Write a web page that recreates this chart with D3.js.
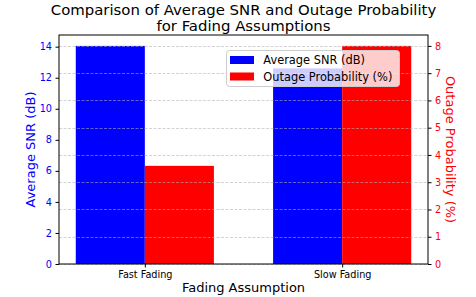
<!DOCTYPE html>
<html>
<head>
<meta charset="utf-8">
<script src="https://cdn.jsdelivr.net/npm/d3@7"></script>
<style>
  body { margin: 0; background: #fff; }
  text { font-family: "DejaVu Sans", sans-serif; }
</style>
</head>
<body>
<script>
// chart data
var categories = ["Fast Fading", "Slow Fading"];
var avgSnr = [14.05, 12.6];
var outageProb = [3.6, 8.0];
var snrTicks = [0, 2, 4, 6, 8, 10, 12, 14];
var outTicks = [0, 1, 2, 3, 4, 5, 6, 7, 8];

var width = 476, height = 297;
var plotL = 59, plotR = 428, plotT = 35, plotB = 264;
var barW = 0.35;

var svg = d3.select("body").append("svg")
    .attr("width", width)
    .attr("height", height);

// x positions: blue bar at i, red bar at i + barW, tick in the middle
var x = d3.scaleLinear()
    .domain([-barW / 2 - 0.085, categories.length - 1 + barW * 1.5 + 0.085])
    .range([plotL, plotR]);

var ySnr = d3.scaleLinear()
    .domain([0, d3.max(avgSnr) * 1.05])
    .range([plotB, plotT]);

var yOut = d3.scaleLinear()
    .domain([0, d3.max(outageProb) * 1.05])
    .range([plotB, plotT]);

// bars
svg.append("g").selectAll("rect")
    .data(avgSnr)
    .enter().append("rect")
    .attr("x", function(d, i){ return x(i - barW / 2); })
    .attr("width", function(){ return x(barW) - x(0); })
    .attr("y", function(d){ return ySnr(d); })
    .attr("height", function(d){ return plotB - ySnr(d); })
    .attr("fill", "#0000ff");

svg.append("g").selectAll("rect")
    .data(outageProb)
    .enter().append("rect")
    .attr("x", function(d, i){ return x(i + barW / 2); })
    .attr("width", function(){ return x(barW) - x(0); })
    .attr("y", function(d){ return yOut(d); })
    .attr("height", function(d){ return plotB - yOut(d); })
    .attr("fill", "#ff0000");

// grid from right axis ticks
svg.append("g").selectAll("line")
    .data(outTicks)
    .enter().append("line")
    .attr("x1", plotL).attr("x2", plotR)
    .attr("y1", function(d){ return Math.round(yOut(d)) + 0.5; })
    .attr("y2", function(d){ return Math.round(yOut(d)) + 0.5; })
    .attr("stroke", "#b0b0b0")
    .attr("stroke-opacity", 0.7)
    .attr("stroke-width", 0.8)
    .attr("stroke-dasharray", "3,1.5");

// axes
var xAxis = d3.axisBottom(x)
    .tickValues(categories.map(function(d, i){ return i + barW / 2; }))
    .tickFormat(function(d, i){ return categories[i]; })
    .tickSize(3.5).tickPadding(3.5);

var gx = svg.append("g")
    .attr("transform", "translate(0," + plotB + ")")
    .call(xAxis);
gx.select(".domain").remove();
gx.selectAll("text").attr("font-size", 9.7).attr("fill", "#000").attr("font-family", "DejaVu Sans");

var gl = svg.append("g")
    .attr("transform", "translate(" + plotL + ",0)")
    .call(d3.axisLeft(ySnr).tickValues(snrTicks).tickSize(3.5).tickPadding(3.5));
gl.select(".domain").remove();
gl.selectAll("text").attr("font-size", 9.7).attr("fill", "#0000ff").attr("font-family", "DejaVu Sans");

var gr = svg.append("g")
    .attr("transform", "translate(" + plotR + ",0)")
    .call(d3.axisRight(yOut).tickValues(outTicks).tickSize(3.5).tickPadding(3.5));
gr.select(".domain").remove();
gr.selectAll("text").attr("font-size", 9.7).attr("fill", "#ff0000").attr("font-family", "DejaVu Sans");

// frame
svg.append("rect")
    .attr("x", plotL).attr("y", plotT)
    .attr("width", plotR - plotL).attr("height", plotB - plotT)
    .attr("fill", "none").attr("stroke", "#000").attr("stroke-width", 1);

// legend
var lg = svg.append("g").attr("transform", "translate(226.5,50.5)");
lg.append("rect")
    .attr("width", 173).attr("height", 36).attr("rx", 3)
    .attr("fill", "#fff").attr("fill-opacity", 0.8)
    .attr("stroke", "#cccccc").attr("stroke-width", 1);
var legendItems = [["Average SNR (dB)", "#0000ff"], ["Outage Probability (%)", "#ff0000"]];
legendItems.forEach(function(d, i){
    lg.append("rect").attr("x", 3.5).attr("y", 5.5 + i * 16.5).attr("width", 24).attr("height", 8).attr("fill", d[1]);
    lg.append("text").attr("x", 36.8).attr("y", 13.8 + i * 16.5)
        .attr("font-size", 11.4).attr("fill", "#000").text(d[0]);
});

// titles
var title = svg.append("text")
    .attr("x", (plotL + plotR) / 2).attr("text-anchor", "middle")
    .attr("font-size", 14.9).attr("fill", "#000");
title.append("tspan").attr("x", (plotL + plotR) / 2).attr("y", 14.5).text("Comparison of Average SNR and Outage Probability");
title.append("tspan").attr("x", (plotL + plotR) / 2).attr("y", 30.5).text("for Fading Assumptions");

svg.append("text")
    .attr("x", (plotL + plotR) / 2).attr("y", 291.5)
    .attr("text-anchor", "middle").attr("font-size", 13).attr("fill", "#000")
    .text("Fading Assumption");

svg.append("text")
    .attr("transform", "translate(35," + (plotT + plotB) / 2 + ") rotate(-90)")
    .attr("text-anchor", "middle").attr("font-size", 13).attr("fill", "#0000ff")
    .text("Average SNR (dB)");

svg.append("text")
    .attr("transform", "translate(446," + (plotT + plotB) / 2 + ") rotate(90)")
    .attr("text-anchor", "middle").attr("font-size", 13).attr("fill", "#ff0000")
    .text("Outage Probability (%)");
</script>
</body>
</html>
